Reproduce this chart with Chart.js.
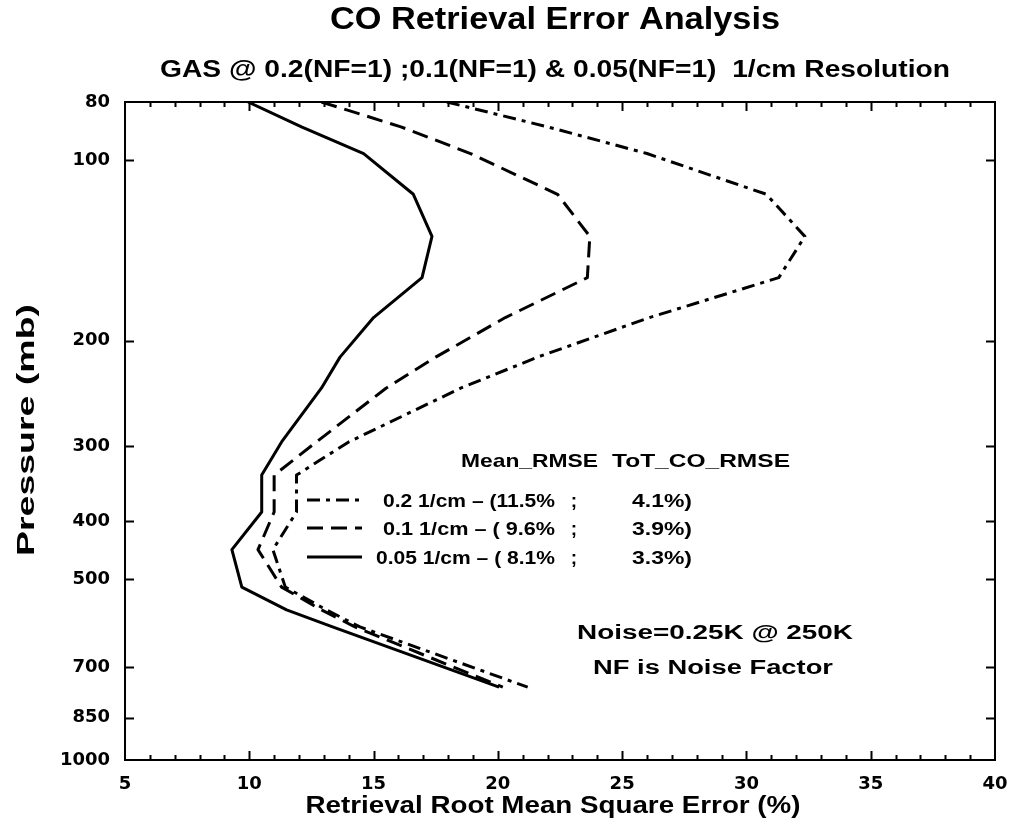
<!DOCTYPE html>
<html>
<head>
<meta charset="utf-8">
<script src="https://cdn.jsdelivr.net/npm/chart.js@4.4.1/dist/chart.umd.min.js"></script>
<style>
  html, body { margin: 0; padding: 0; background: #ffffff; }
  #wrap { width: 1013px; height: 825px; position: relative; }
</style>
</head>
<body>
<div id="wrap"><canvas id="c" width="1013" height="825"></canvas></div>
<script>
// ---------------- data ----------------
const pressureLevels = [80, 88, 97.5, 114, 134, 157, 183, 213, 240, 295, 335, 386, 446, 515, 562, 600, 756];
const rmse02  = [17.95, 22.0, 26.0, 30.8, 32.35, 31.3, 26.1, 21.6, 18.5, 14.0, 11.9, 11.9, 10.95, 11.45, 13.1, 14.45, 21.2];
const rmse01  = [12.9, 16.1, 18.9, 22.4, 23.7, 23.6, 20.3, 17.5, 15.5, 12.7, 11.0, 11.0, 10.35, 11.3, 12.9, 14.25, 20.2];
const rmse005 = [9.95, 12.1, 14.6, 16.6, 17.35, 16.95, 15.0, 13.65, 12.9, 11.3, 10.5, 10.5, 9.3, 9.7, 11.5, 13.35, 20.05];

const yTickValues = [80, 100, 200, 300, 400, 500, 700, 850, 1000];
const xTickValues = [5, 10, 15, 20, 25, 30, 35, 40];

const seriesLabels = ['0.2 1/cm', '0.1 1/cm', '0.05 1/cm'];
const meanRmse = ['(11.5%', '( 9.6%', '( 8.1%'];
const totCoRmse = ['4.1%)', '3.9%)', '3.3%)'];

const titleText = 'CO Retrieval Error Analysis';
const subtitleText = 'GAS @ 0.2(NF=1) ;0.1(NF=1) & 0.05(NF=1)  1/cm Resolution';
const xTitleText = 'Retrieval Root Mean Square Error (%)';
const yTitleText = 'Pressure (mb)';
const legendHeader = ['Mean_RMSE', 'ToT_CO_RMSE'];
const noteTexts = ['Noise=0.25K @ 250K', 'NF is Noise Factor'];

// ---------------- styles ----------------
const DASHES = [[13, 6, 4, 6], [16, 8], []];
const SANS = '"Liberation Sans", Arial, sans-serif';
const TICKFONT = '"DejaVu Sans", sans-serif';

function makeDataset(label, values, dash) {
  return {
    label: label,
    data: pressureLevels.map((p, i) => ({ x: values[i], y: p })),
    borderColor: '#000',
    backgroundColor: '#000',
    borderWidth: 3,
    borderDash: dash,
    pointRadius: 0,
    pointHoverRadius: 0,
    fill: false,
    tension: 0,
    borderCapStyle: 'butt',
    borderJoinStyle: 'round'
  };
}

// draw text with its caps centred on y, stretched to a given width
function fitText(ctx, text, o) {
  ctx.save();
  ctx.font = 'bold ' + o.size + 'px ' + (o.family || SANS);
  const w = ctx.measureText(text).width;
  const sx = o.width ? o.width / w : 1;
  ctx.translate(o.x, o.y);
  if (o.rotate) ctx.rotate(o.rotate);
  ctx.scale(sx, 1);
  ctx.textAlign = o.align || 'center';
  ctx.textBaseline = 'alphabetic';
  ctx.fillStyle = '#000';
  ctx.fillText(text, 0, o.size * 0.716 / 2);
  ctx.restore();
}

const decorPlugin = {
  id: 'decor',
  afterDraw(chart) {
    const ctx = chart.ctx;
    const ca = chart.chartArea;
    const xs = chart.scales.x, ys = chart.scales.y;
    ctx.save();
    ctx.strokeStyle = '#000';
    ctx.fillStyle = '#000';
    // frame
    ctx.lineWidth = 2;
    ctx.setLineDash([]);
    ctx.strokeRect(ca.left, ca.top, ca.right - ca.left, ca.bottom - ca.top);
    // x ticks (inward, bottom and top)
    ctx.lineWidth = 2;
    ctx.beginPath();
    for (let v = xs.min + 1; v < xs.max; v++) {
      const px = Math.round(xs.getPixelForValue(v)) + 0.5;
      const len = (v % 5 === 0) ? 9 : 5;
      ctx.moveTo(px, ca.bottom); ctx.lineTo(px, ca.bottom - len);
      ctx.moveTo(px, ca.top); ctx.lineTo(px, ca.top + len);
    }
    // y ticks (inward, left and right)
    yTickValues.forEach(v => {
      if (v === ys.min || v === ys.max) return;
      const py = Math.round(ys.getPixelForValue(v)) + 0.5;
      ctx.moveTo(ca.left, py); ctx.lineTo(ca.left + 9, py);
      ctx.moveTo(ca.right, py); ctx.lineTo(ca.right - 9, py);
    });
    ctx.stroke();

    // titles
    fitText(ctx, titleText, { x: 555, y: 18, size: 31, width: 450 });
    fitText(ctx, subtitleText, { x: 555, y: 68, size: 24, width: 790 });
    fitText(ctx, xTitleText, { x: 553, y: 805, size: 23, width: 495 });
    fitText(ctx, yTitleText, { x: 25, y: 430, size: 24, width: 252, rotate: -Math.PI / 2 });

    // legend
    fitText(ctx, legendHeader[0], { x: 461, y: 460, size: 19, width: 137, align: 'left' });
    fitText(ctx, legendHeader[1], { x: 612, y: 460, size: 19, width: 178, align: 'left' });
    const rowY = [500, 528, 557];
    const rowStart = [383, 383, 376];
    chart.data.datasets.forEach((d, i) => {
      const y = rowY[i];
      ctx.save();
      ctx.lineWidth = 3;
      ctx.setLineDash(d.borderDash);
      ctx.beginPath();
      ctx.moveTo(307, y); ctx.lineTo(362, y);
      ctx.stroke();
      ctx.restore();
      const left = seriesLabels[i] + ' \u2013 ' + meanRmse[i];
      fitText(ctx, left, { x: rowStart[i], y: y, size: 19, width: 555 - rowStart[i], align: 'left' });
      fitText(ctx, ';', { x: 574, y: y, size: 19, align: 'center' });
      fitText(ctx, totCoRmse[i], { x: 692, y: y, size: 19, width: 60, align: 'right' });
    });

    // notes
    fitText(ctx, noteTexts[0], { x: 715, y: 632, size: 20, width: 276 });
    fitText(ctx, noteTexts[1], { x: 713, y: 667, size: 20, width: 240 });
    ctx.restore();
  }
};

new Chart(document.getElementById('c'), {
  type: 'line',
  data: {
    datasets: [
      makeDataset(seriesLabels[0], rmse02, DASHES[0]),
      makeDataset(seriesLabels[1], rmse01, DASHES[1]),
      makeDataset(seriesLabels[2], rmse005, DASHES[2])
    ]
  },
  options: {
    responsive: false,
    animation: false,
    devicePixelRatio: 1,
    layout: { padding: { top: 102, right: 18, bottom: 0, left: 0 } },
    plugins: {
      legend: { display: false },
      title: { display: false },
      tooltip: { enabled: false }
    },
    events: [],
    scales: {
      x: {
        type: 'linear',
        position: 'bottom',
        min: 5, max: 40,
        grid: { display: false, drawTicks: false },
        border: { display: false },
        ticks: {
          color: '#000',
          padding: 14,
          font: { family: TICKFONT, size: 18, weight: 'bold' },
          callback: v => String(v)
        },
        afterBuildTicks: s => { s.ticks = xTickValues.map(v => ({ value: v })); },
        afterFit: s => { s.height = 65; s.paddingLeft = 0; s.paddingRight = 0; }
      },
      y: {
        type: 'logarithmic',
        position: 'left',
        reverse: true,
        min: 80, max: 1000,
        grid: { display: false, drawTicks: false },
        border: { display: false },
        ticks: {
          color: '#000',
          padding: 15,
          font: { family: TICKFONT, size: 18, weight: 'bold' },
          callback: v => String(v)
        },
        afterBuildTicks: s => { s.ticks = yTickValues.map(v => ({ value: v })); },
        afterFit: s => { s.width = 125; s.paddingTop = 0; s.paddingBottom = 0; }
      }
    }
  },
  plugins: [decorPlugin]
});
</script>
</body>
</html>
